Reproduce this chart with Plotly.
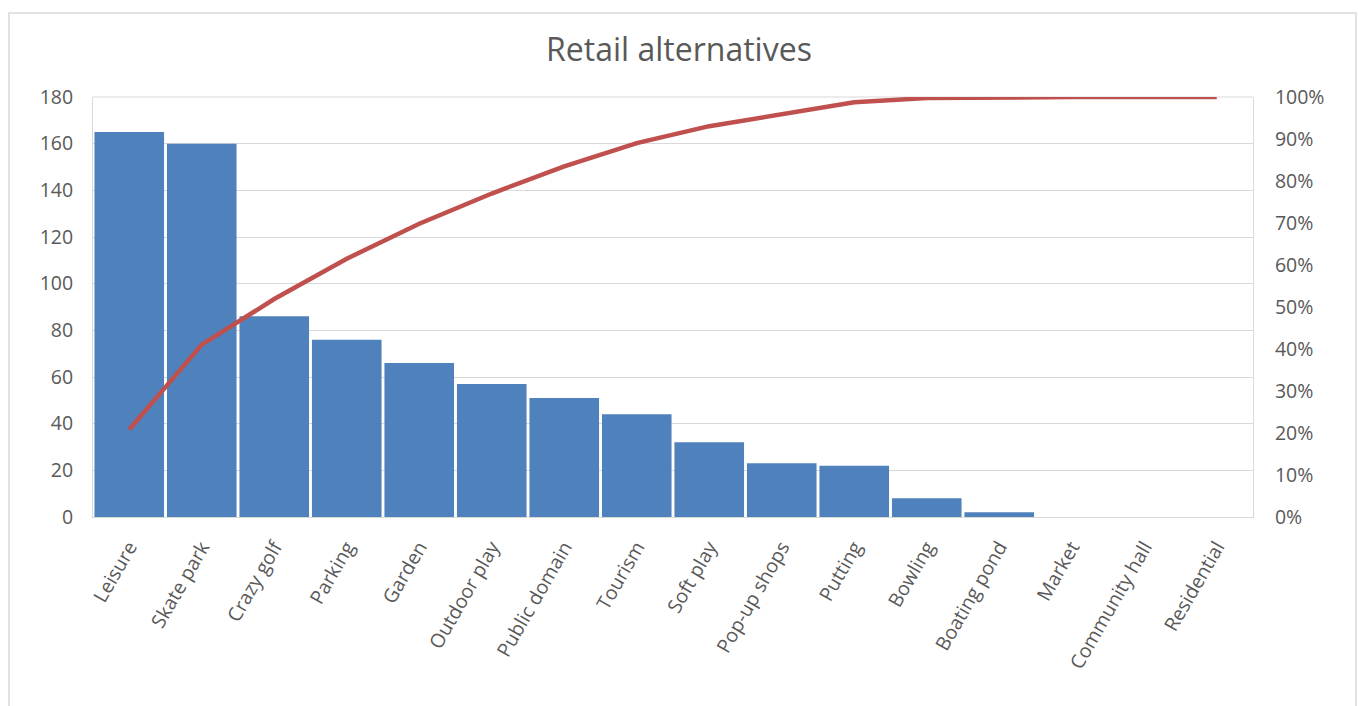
import numpy as np
import plotly.graph_objects as go

categories = ["Leisure", "Skate park", "Crazy golf", "Parking", "Garden", "Outdoor play",
              "Public domain", "Tourism", "Soft play", "Pop-up shops", "Putting", "Bowling",
              "Boating pond", "Market", "Community hall", "Residential"]
counts = [165, 160, 86, 76, 66, 57, 51, 44, 32, 23, 22, 8, 2, 0, 0, 0]
left_ticks = [0, 20, 40, 60, 80, 100, 120, 140, 160, 180]
right_ticks = [0, 0.1, 0.2, 0.3, 0.4, 0.5, 0.6, 0.7, 0.8, 0.9, 1.0]

cum_share = np.cumsum(counts) / np.sum(counts)

W, H = 1358, 706
L, R, T, B = 93, 105, 97, 189
pw, ph = W - L - R, H - T - B

def px_x(p):
    return (p - L) / pw

def px_y(p):
    return (H - B - p) / ph

FONT = "Open Sans"
GREY = "#595959"
GRID = "#d9d9d9"
TICK_SIZE = 19.5

fig = go.Figure()
fig.add_trace(go.Bar(x=categories, y=counts, marker=dict(color="#4F81BD", line=dict(width=0)),
                     name="Count"))
fig.add_trace(go.Scatter(x=categories, y=cum_share, yaxis="y2", mode="lines",
                         line=dict(color="#C0504D", width=4.5), name="Cumulative %"))

fig.update_layout(
    width=W, height=H,
    margin=dict(l=L, r=R, t=T, b=B, pad=0),
    paper_bgcolor="white", plot_bgcolor="white",
    showlegend=False,
    bargap=0.04,
    font=dict(family=FONT, color=GREY, size=TICK_SIZE),
    title=dict(text="Retail alternatives", x=0.5, xanchor="center", y=1 - 50 / H, yanchor="middle",
               font=dict(family=FONT, size=32, color=GREY)),
    xaxis=dict(tickangle=-60, showline=True, linecolor=GRID, linewidth=1, ticks="",
               tickfont=dict(size=TICK_SIZE, color=GREY), ticklabelstandoff=10, showgrid=False),
    yaxis=dict(range=[0, 180], tickvals=left_ticks, showgrid=True, gridcolor=GRID, gridwidth=1,
               showline=True, linecolor=GRID, zeroline=False, ticks="",
               tickfont=dict(size=TICK_SIZE, color=GREY), ticklabelstandoff=15),
    yaxis2=dict(range=[0, 1.0], tickvals=right_ticks, tickformat=".0%", overlaying="y", side="right",
                showgrid=False, showline=True, linecolor=GRID, zeroline=False, ticks="",
                tickfont=dict(size=TICK_SIZE, color=GREY), ticklabelstandoff=17),
    shapes=[
        dict(type="rect", xref="paper", yref="paper",
             x0=px_x(9), x1=px_x(1356), y0=px_y(720), y1=px_y(13),
             line=dict(color="#d9d9d9", width=1.5), fillcolor="rgba(0,0,0,0)", layer="below"),
        dict(type="line", xref="paper", yref="paper", x0=0, x1=1, y0=1, y1=1,
             line=dict(color=GRID, width=1), layer="below"),
    ],
)

fig.write_html("out.html")
